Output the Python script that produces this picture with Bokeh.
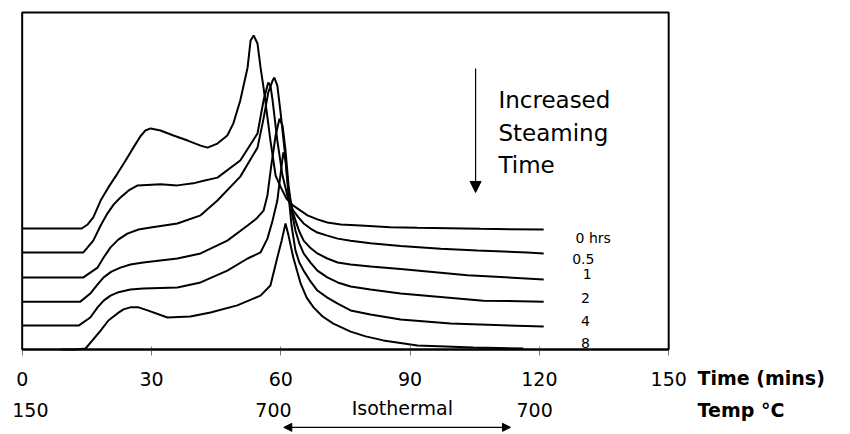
from bokeh.plotting import figure
from bokeh.models import Label, Arrow, NormalHead, Range1d, FixedTicker, LinearAxis, BoxAnnotation
from bokeh.embed import file_html
from bokeh.resources import INLINE

# ---- data (time in minutes, signal in arbitrary stacked units) ----
t_0h = [0, 13.8, 15.2, 16.5, 18.2, 20.0, 22.1, 24.0, 25.8, 27.4, 28.6, 29.8, 32.1, 35.1, 38.4, 41.4, 43.0,
        45.3, 47.6, 49.0, 50.6, 52.3, 53.0, 53.7, 54.6, 55.3, 56.0, 56.7, 57.6, 58.8, 59.9, 61.3, 62.9,
        64.6, 66.2, 68.5, 70.8, 73.9, 78.5, 85.4, 91.7, 106.3, 121.0]
y_0h = [35.9, 35.9, 37.1, 39.2, 44.2, 48.1, 52.2, 56.1, 59.9, 63.2, 65.0, 65.6, 65.0, 63.5, 62.0, 60.5, 59.9,
        61.1, 63.5, 67.1, 73.9, 83.7, 91.7, 93.2, 90.8, 83.7, 77.7, 70.9, 62.0, 51.6, 48.4, 44.8, 42.7,
        41.2, 39.8, 38.6, 37.7, 37.1, 36.8, 36.3, 36.1, 35.8, 35.6]

t_05h = [0, 14.2, 16.5, 18.2, 19.8, 21.2, 22.8, 24.7, 26.8, 32.1, 36.0, 39.7, 42.1, 45.3, 50.6, 54.6, 56.0,
         56.9, 57.1, 57.6, 58.1, 59.2, 60.4, 61.8, 62.9, 64.1, 65.3, 66.9, 68.5, 70.8, 73.2, 76.2, 80.8,
         87.8, 97.1, 105.6, 117.2, 121.0]
y_05h = [28.8, 28.8, 32.3, 36.8, 40.4, 43.0, 45.1, 47.2, 48.7, 49.0, 48.7, 49.3, 50.1, 51.0, 56.1, 64.1, 73.9,
         78.3, 79.2, 78.3, 73.9, 62.0, 51.6, 44.2, 41.2, 39.2, 37.4, 35.9, 34.7, 33.8, 32.9, 32.3, 31.5,
         30.7, 29.9, 29.4, 28.8, 28.5]

t_1h = [0, 14.2, 17.5, 18.9, 20.5, 22.3, 24.4, 27.0, 29.8, 36.0, 41.4, 45.3, 50.6, 54.6, 56.0, 57.1, 58.1,
        58.5, 59.2, 59.9, 60.9, 61.8, 62.7, 63.4, 64.3, 65.3, 66.9, 68.5, 70.8, 73.2, 76.2, 80.8, 87.8,
        103.3, 121.0]
y_1h = [21.4, 21.4, 24.3, 27.3, 30.3, 32.6, 34.4, 35.6, 36.2, 37.4, 39.8, 44.2, 51.3, 59.9, 68.5, 76.3, 79.8,
        80.7, 78.3, 70.9, 59.1, 47.2, 41.2, 38.3, 35.0, 32.3, 30.1, 28.5, 27.0, 25.8, 25.2, 24.6, 23.9,
        22.0, 20.8]

t_2h = [0, 13.5, 15.8, 17.5, 18.9, 20.7, 22.8, 25.1, 28.1, 36.0, 41.4, 47.6, 52.3, 54.4, 56.0, 56.9, 57.8,
        58.8, 59.7, 60.4, 61.1, 61.8, 62.7, 63.4, 64.3, 65.3, 66.9, 68.5, 70.8, 73.2, 76.2, 80.8, 87.8,
        107.0, 121.0]
y_2h = [14.2, 14.2, 16.6, 19.3, 21.4, 23.1, 24.3, 25.2, 25.8, 27.0, 28.5, 32.3, 36.8, 38.9, 41.2, 45.7, 54.6,
        63.5, 68.5, 66.5, 59.1, 48.7, 39.8, 35.3, 31.5, 28.5, 25.8, 23.4, 21.4, 19.9, 18.7, 17.8, 16.6,
        14.5, 14.2]

t_4h = [0, 13.1, 15.8, 17.5, 18.9, 20.5, 22.1, 25.1, 28.1, 36.0, 41.4, 47.6, 52.3, 55.3, 56.9, 58.1, 59.2,
        60.2, 60.6, 61.1, 61.8, 62.5, 63.4, 64.3, 65.3, 66.9, 68.5, 70.8, 73.2, 76.2, 80.8, 87.8, 99.4,
        121.0]
y_4h = [7.1, 7.1, 9.5, 12.5, 14.5, 16.0, 16.9, 17.8, 18.1, 18.4, 19.9, 23.4, 27.0, 28.8, 32.9, 38.3, 44.2,
        54.6, 58.5, 56.1, 45.7, 36.8, 29.4, 25.8, 23.4, 20.2, 17.5, 15.4, 13.6, 11.6, 10.4, 8.9, 7.7,
        6.8]

t_8h = [8.9, 12.4, 14.7, 16.3, 18.2, 20.0, 22.1, 23.5, 25.1, 27.0, 29.1, 33.7, 39.0, 43.7, 49.9, 55.3, 57.6,
        59.2, 60.2, 61.1, 61.8, 62.9, 63.9, 64.6, 66.0, 67.6, 69.7, 72.2, 76.2, 79.7, 83.8, 91.7, 104.7,
        116.3]
y_8h = [0.0, 0.0, 0.3, 2.7, 5.6, 8.6, 10.7, 11.9, 12.5, 12.5, 11.6, 9.5, 9.8, 11.0, 13.1, 16.0, 19.0,
        27.3, 32.3, 37.4, 33.8, 27.3, 22.8, 19.6, 15.4, 12.5, 9.8, 7.7, 5.3, 3.9, 2.7, 1.2, 0.6,
        0.3]

series_labels = ["0 hrs", "0.5", "1", "2", "4", "8"]
time_ticks = [0, 30, 60, 90, 120, 150]
temp_labels = ["150", "700", "700"]

FONT = "DejaVu Sans"

# the frame fills the whole canvas; the plotted box spans time 0-150, signal 0-100
p = figure(width=848, height=432,
           min_border_left=0, min_border_right=0, min_border_top=0, min_border_bottom=0,
           x_range=Range1d(-5.03, 191.72), y_range=Range1d(-24.63, 103.56),
           x_axis_location=None, y_axis_location=None,
           output_backend="svg", toolbar_location=None)
p.outline_line_color = None
p.grid.visible = False
p.background_fill_color = "white"
p.border_fill_color = "white"

p.add_layout(BoxAnnotation(left=0, right=150, bottom=0, top=100, fill_alpha=0,
                           line_color="black", line_width=2, line_alpha=1))

ax = LinearAxis(fixed_location=0, bounds=(0, 150))
ax.ticker = FixedTicker(ticks=time_ticks)
ax.axis_line_width = 2
ax.axis_line_color = "black"
ax.major_tick_in = 3
ax.major_tick_out = 6
ax.major_tick_line_color = "#777777"
ax.minor_tick_line_color = None
ax.major_label_text_font = FONT
ax.major_label_text_font_size = "19px"
ax.major_label_text_color = "black"
ax.major_label_standoff = 17
p.add_layout(ax, "below")

for tt, yy in [(t_0h, y_0h), (t_05h, y_05h), (t_1h, y_1h), (t_2h, y_2h), (t_4h, y_4h), (t_8h, y_8h)]:
    p.line(tt, yy, line_color="black", line_width=2)

# curve labels
lab_pos = [(128.4, 33.2, "left"), (130.2, 27.0, "center"), (131.1, 22.5, "center"),
           (130.7, 15.4, "center"), (130.7, 8.6, "center"), (130.7, 1.8, "center")]
for (lx, ly, al), txt in zip(lab_pos, series_labels):
    p.add_layout(Label(x=lx, y=ly, text=txt, text_font=FONT, text_font_size="14px",
                       text_align=al, text_baseline="middle", text_color="black"))

# Increased steaming time annotation
for i, line in enumerate(["Increased", "Steaming", "Time"]):
    p.add_layout(Label(x=110.5, y=[73.9, 64.1, 54.6][i], text=line, text_font=FONT,
                       text_font_size="23px", text_baseline="middle", text_align="left",
                       text_color="black"))
p.add_layout(Arrow(end=NormalHead(size=11, fill_color="black", line_color="black"),
                   x_start=105.2, y_start=83.4, x_end=105.2, y_end=46.6,
                   line_color="black", line_width=1.2))

# axis titles and temperature row
p.add_layout(Label(x=156.7, y=-8.6, text="Time (mins)", text_font=FONT, text_font_size="19px",
                   text_font_style="bold", text_baseline="middle", text_align="left",
                   text_color="black"))
p.add_layout(Label(x=156.7, y=-18.1, text="Temp °C", text_font=FONT, text_font_size="19px",
                   text_font_style="bold", text_baseline="middle", text_align="left",
                   text_color="black"))
for tx, txt in zip([1.9, 58.3, 118.9], temp_labels):
    p.add_layout(Label(x=tx, y=-18.1, text=txt, text_font=FONT, text_font_size="19px",
                       text_baseline="middle", text_align="center", text_color="black"))
p.add_layout(Label(x=88.2, y=-17.5, text="Isothermal", text_font=FONT, text_font_size="19px",
                   text_baseline="middle", text_align="center", text_color="black"))
p.add_layout(Arrow(start=NormalHead(size=8, fill_color="black", line_color="black"),
                   end=NormalHead(size=8, fill_color="black", line_color="black"),
                   x_start=60.7, y_start=-23.1, x_end=113.3, y_end=-23.1,
                   line_color="black", line_width=1.2))

open("out.html", "w").write(file_html(p, INLINE))
